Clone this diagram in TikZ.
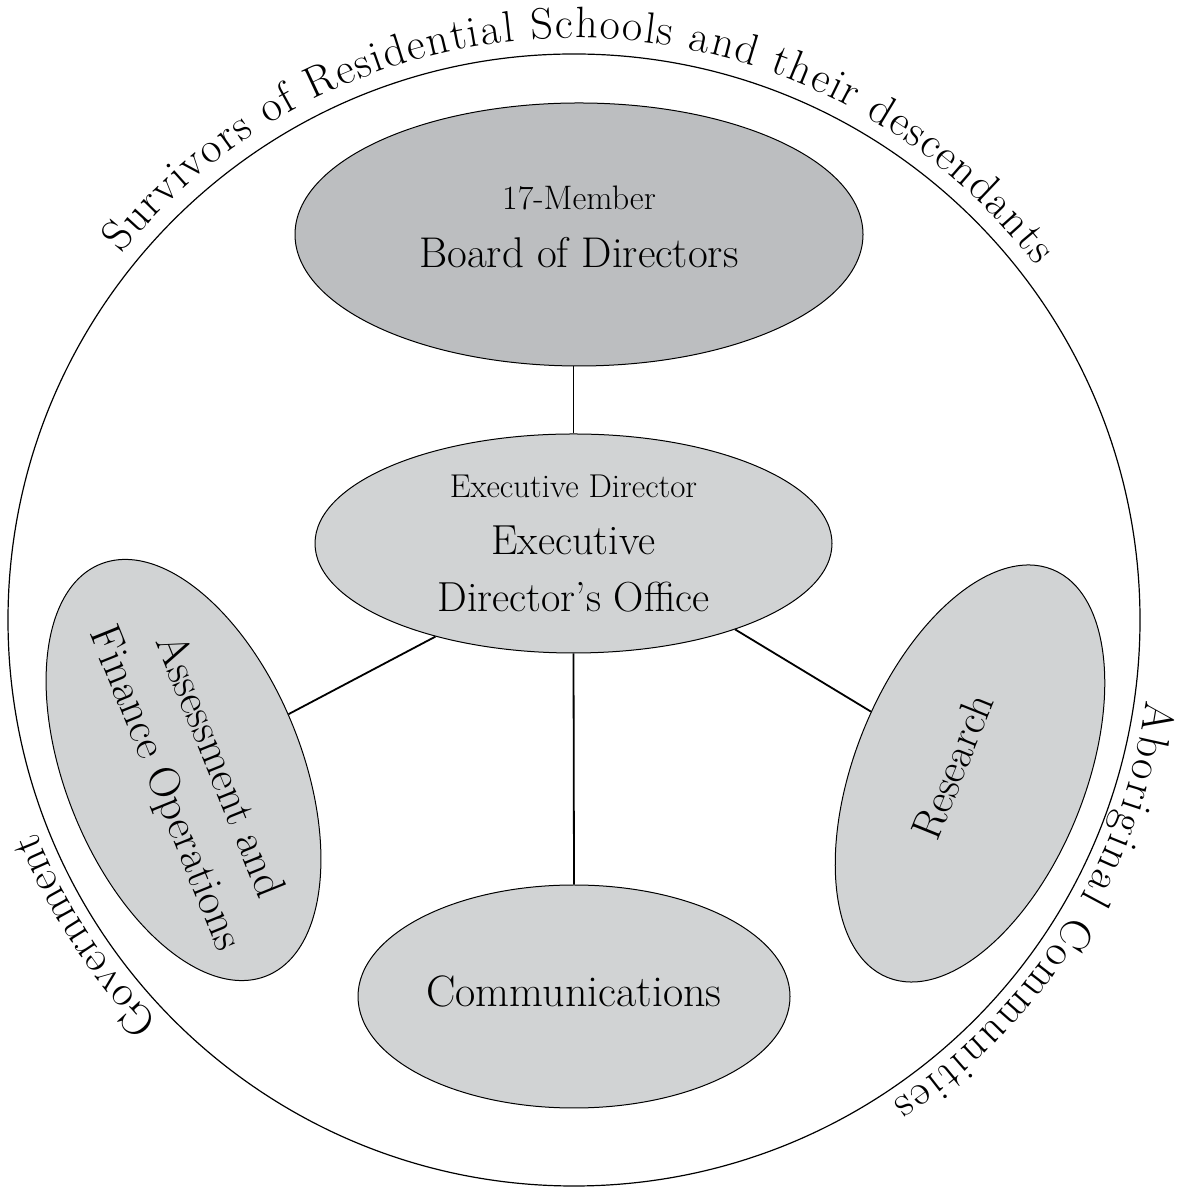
\documentclass[tikz,border=0pt]{standalone}
\usetikzlibrary{shapes.geometric,decorations.text}
\definecolor{boardfill}{RGB}{188,190,192}
\definecolor{unitfill}{RGB}{209,211,212}
\newcommand\arcfont{\fontsize{44}{50}\selectfont}
\newcommand\zw[1]{\makebox[0pt]{#1}}
\newcommand\dropby[1]{\rule[-#1]{0pt}{0pt}}
\begin{document}
\begin{tikzpicture}[x=1pt,y=1pt,
  unit/.style={ellipse, draw=black, line width=1pt, fill=unitfill, inner sep=0pt, align=center},
  link/.style={draw=black, line width=1.8pt},
  arctext/.style={decorate, decoration={text along path, text align=fit to path, text={|\arcfont|#1}}}
]
\useasboundingbox (0,0) rectangle (1180,1190);
\fill[white] (0,0) rectangle (1180,1190);
\node[draw=black, circle, line width=1.2pt, minimum size=1132pt, inner sep=0pt] (outer) at (574,570) {};

\node[unit, fill=boardfill, minimum width=568pt, minimum height=263pt, font=\fontsize{43}{58}\selectfont] (board) at (579,955.5)
  {\zw{\fontsize{34}{58}\selectfont 17-Member}\\\zw{Board of Directors\dropby{15pt}}};
\node[unit, minimum width=517pt, minimum height=219pt, font=\fontsize{42}{57}\selectfont] (exec) at (573.5,646.5)
  {\zw{\fontsize{33}{57}\selectfont Executive Director}\\\zw{Executive}\\\zw{Director's Office}};
\node[unit, minimum width=432pt, minimum height=223pt, font=\fontsize{44}{58}\selectfont] (comm) at (574,193.5)
  {\zw{Communications\dropby{10pt}}};
\node[unit, rotate=-68, minimum width=444pt, minimum height=236pt, font=\fontsize{44}{58}\selectfont] (assess) at (183.5,420)
  {\zw{\hspace*{20pt}Assessment and}\\\zw{\hspace*{20pt}Finance Operations\dropby{17pt}}};
\node[unit, rotate=68, minimum width=440pt, minimum height=230pt, font=\fontsize{43}{58}\selectfont] (research) at (970,416.5)
  {\zw{Research\dropby{38pt}}};

\draw[link] (exec.north) -- (exec.north |- board.south);
\draw[link] (exec.214) -- (assess.96);
\draw[link] (exec.332.5) -- (research.80);
\draw[link] (exec.south) -- (comm.north);

\path[arctext={Survivors of Residential Schools and their descendants}] (outer.center) ++(141:582) arc[start angle=141, end angle=37.5, radius=582];
\path[arctext={Aboriginal Communities}] (outer.center) ++(-8:578) arc[start angle=-8, end angle=-56.5, radius=578];
\path[arctext={Government}] (outer.center) ++(224:578) arc[start angle=224, end angle=201.5, radius=578];
\end{tikzpicture}
\end{document}
